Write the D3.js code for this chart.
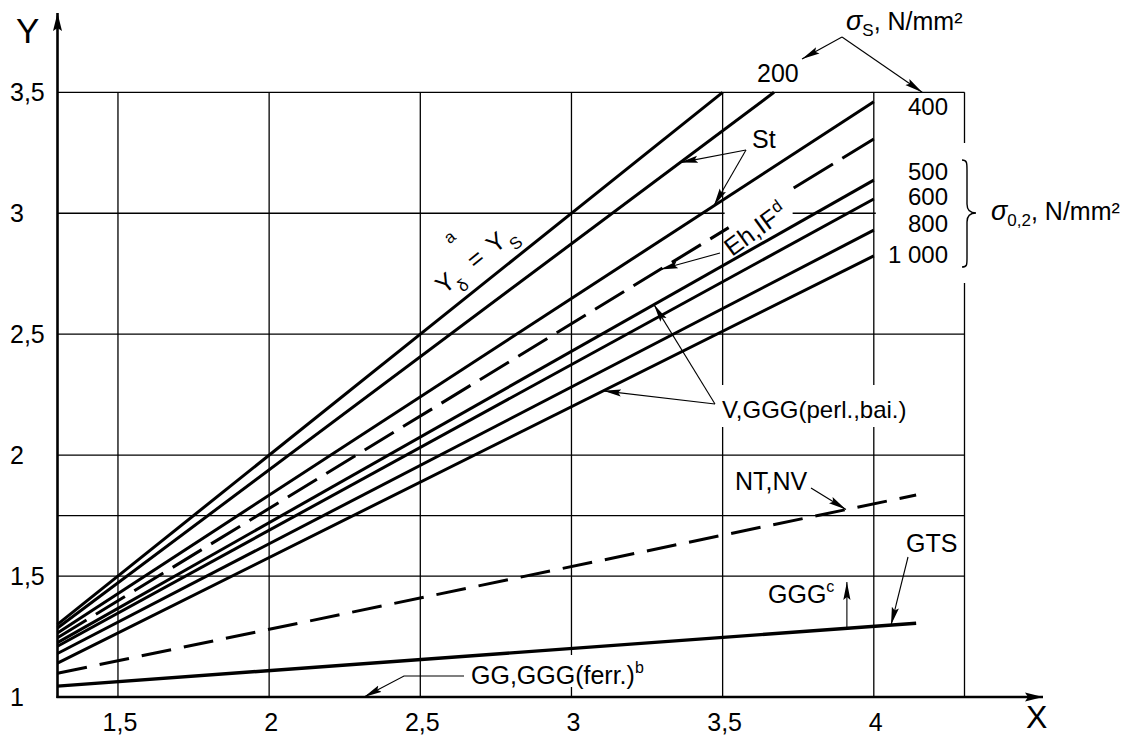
<!DOCTYPE html>
<html lang="de">
<head>
<meta charset="UTF-8">
<title>Y in Abhängigkeit von X</title>
<script src="https://d3js.org/d3.v7.min.js"></script>
<style>
    body { margin: 0; background: #fff; }
    svg { display: block; font-family: "Liberation Sans", Arial, sans-serif; }
</style>
</head>
<body>
<div id="chart"></div>
<script>
// Achsen und Raster
const xTicks = [1.5, 2, 2.5, 3, 3.5, 4];
const xTickLabels = ["1,5", "2", "2,5", "3", "3,5", "4"];
const yTicks = [1, 1.5, 2, 2.5, 3, 3.5];
const yTickLabels = ["1", "1,5", "2", "2,5", "3", "3,5"];
const yGrid = [1.5, 1.75, 2, 2.5, 3, 3.5];

// Kurven: Anfangs- und Endpunkt
const curveNames = ["Ys", "200", "400", "Eh,IF", "500", "600", "800", "1000", "NT,NV", "GTS"];
const curveX0 = [1.3, 1.3, 1.3, 1.3, 1.3, 1.3, 1.3, 1.3, 1.3, 1.3];
const curveY0 = [1.3, 1.285, 1.265, 1.245, 1.225, 1.21, 1.18, 1.14, 1.098, 1.045];
const curveX1 = [3.5, 3.67, 4, 4, 4, 4, 4, 4, 4.14, 4.14];
const curveY1 = [3.5, 3.5, 3.461, 3.307, 3.137, 3.059, 2.93, 2.824, 1.835, 1.305];

// Beschriftung der Streckgrenzen
const sigmaLabels = ["400", "500", "600", "800", "1 000"];
const sigmaLabelY = [115, 180, 205, 232, 263];

const width = 1131, height = 735;

const x = d3.scaleLinear().domain([1.3, 4.3]).range([57.5, 964.5]);
const y = d3.scaleLinear().domain([1, 3.5]).range([697, 92.3]);

const curves = curveNames.map((name, i) => ({
    name,
    pts: [[curveX0[i], curveY0[i]], [curveX1[i], curveY1[i]]]
}));

// Wert einer Kurve bei gegebenem X
function valueAt(name, X) {
    const c = curves.find(d => d.name === name);
    const [a, b] = c.pts;
    return a[1] + (X - a[0]) / (b[0] - a[0]) * (b[1] - a[1]);
}
function at(name, X) {
    return [x(X), y(valueAt(name, X))];
}

const svg = d3.select("#chart").append("svg")
    .attr("width", width)
    .attr("height", height);

const defs = svg.append("defs");
defs.append("marker")
    .attr("id", "arr")
    .attr("viewBox", "0 0 18 8")
    .attr("markerWidth", 18).attr("markerHeight", 8)
    .attr("refX", 18).attr("refY", 4)
    .attr("orient", "auto")
    .attr("markerUnits", "userSpaceOnUse")
    .append("path").attr("d", "M0,0.4 L18,4 L0,7.6 L3,4 Z").attr("fill", "#000");
defs.append("marker")
    .attr("id", "axarr")
    .attr("viewBox", "0 0 18 10")
    .attr("markerWidth", 18).attr("markerHeight", 10)
    .attr("refX", 18).attr("refY", 5)
    .attr("orient", "auto")
    .attr("markerUnits", "userSpaceOnUse")
    .append("path").attr("d", "M0,0.5 L18,5 L0,9.5 L3,5 Z").attr("fill", "#000");

// Raster
const grid = svg.append("g").attr("stroke", "#000").attr("stroke-width", 1.3);
grid.selectAll(".vx").data(xTicks.concat([4.3])).join("line")
    .attr("x1", d => x(d)).attr("x2", d => x(d))
    .attr("y1", y(1)).attr("y2", y(3.5));
grid.selectAll(".hy").data(yGrid).join("line")
    .attr("x1", x(1.3)).attr("x2", x(4.3))
    .attr("y1", d => y(d)).attr("y2", d => y(d));

// Freistellungen im Raster für Beschriftungen
const knock = svg.append("g").attr("fill", "#fff");
knock.append("rect").attr("x", x(4) + 2).attr("y", 143).attr("width", 20 + x(4.3) - x(4)).attr("height", 140);
knock.append("rect").attr("x", x(3.5) + 2).attr("y", y(3) - 4).attr("width", 68).attr("height", 8);
knock.append("rect").attr("x", x(3.5) - 3).attr("y", 385).attr("width", 190).attr("height", 42);
knock.append("rect").attr("x", 468).attr("y", 655).attr("width", 195).attr("height", 32);

// Achsen
svg.append("line")
    .attr("x1", x(1.3)).attr("x2", x(1.3))
    .attr("y1", y(1) + 1).attr("y2", 13)
    .attr("stroke", "#000").attr("stroke-width", 2.6)
    .attr("marker-end", "url(#axarr)");
svg.append("line")
    .attr("x1", x(1.3) - 1).attr("x2", 1043)
    .attr("y1", y(1)).attr("y2", y(1))
    .attr("stroke", "#000").attr("stroke-width", 2.6)
    .attr("marker-end", "url(#axarr)");

svg.append("g").selectAll("text").data(yTicks).join("text")
    .attr("x", 10).attr("y", d => y(d) + 9)
    .attr("font-size", 25)
    .text((d, i) => yTickLabels[i]);
svg.append("g").selectAll("text").data(xTicks).join("text")
    .attr("x", d => x(d) + 2).attr("y", 731)
    .attr("text-anchor", "middle")
    .attr("font-size", 25)
    .text((d, i) => xTickLabels[i]);
svg.append("text").attr("x", 16).attr("y", 43).attr("font-size", 35).text("Y");
svg.append("text").attr("x", 1026).attr("y", 728).attr("font-size", 32).text("X");

// Kurven; Eh,IF wird an der Beschriftung unterbrochen
const line = d3.line().x(d => x(d[0])).y(d => y(d[1]));
const pieces = [];
curves.forEach(c => {
    if (c.name === "Eh,IF") {
        const a = c.pts[0], b = c.pts[1];
        pieces.push({ name: c.name, dash: "34,11", pts: [a, [3.52, valueAt(c.name, 3.52)]] });
        pieces.push({ name: c.name, dash: "46,11", pts: [[3.735, valueAt(c.name, 3.735)], b] });
    } else {
        pieces.push({ name: c.name, dash: c.name === "NT,NV" ? "30,13" : null, pts: c.pts });
    }
});
svg.append("g").selectAll("path").data(pieces).join("path")
    .attr("d", d => line(d.pts))
    .attr("fill", "none")
    .attr("stroke", "#000")
    .attr("stroke-width", d => d.name === "GTS" ? 3.4 : 3)
    .attr("stroke-dasharray", d => d.dash);

// Hinweislinien mit Pfeil
function leader(points) {
    svg.append("path")
        .attr("d", d3.line()(points))
        .attr("fill", "none")
        .attr("stroke", "#000")
        .attr("stroke-width", 1.1)
        .attr("marker-end", "url(#arr)");
}
leader([[842, 37], [802, 59]]);
leader([[842, 37], [x(4.16), y(3.5)]]);
leader([[746, 150], at("200", 3.359)]);
leader([[746, 150], at("400", 3.471)]);
leader([[720, 253], at("Eh,IF", 3.293)]);
leader([[715, 404], at("500", 3.273)]);
leader([[715, 404], at("1000", 3.105)]);
leader([[811, 488], at("NT,NV", 3.908)]);
leader([[908, 557], at("GTS", 4.057)]);
leader([at("GTS", 3.911), [at("GTS", 3.911)[0], 582]]);
leader([[464, 676], [404, 676], [x(2.314), y(1)]]);

// Beschriftungen
const lab = svg.append("g").attr("font-size", 25).attr("fill", "#000");
lab.append("text").attr("x", 757).attr("y", 82).text("200");
lab.selectAll(".sl").data(sigmaLabels).join("text")
    .attr("x", 948).attr("y", (d, i) => sigmaLabelY[i])
    .attr("text-anchor", "end")
    .attr("font-size", 24)
    .text(d => d);
lab.append("text").attr("x", 752).attr("y", 148).text("St");
lab.append("text").attr("x", 722).attr("y", 418).attr("font-size", 24).text("V,GGG(perl.,bai.)");
lab.append("text").attr("x", 735).attr("y", 490).text("NT,NV");
lab.append("text").attr("x", 906).attr("y", 552).text("GTS");
const ggg = lab.append("text").attr("x", 768).attr("y", 603).text("GGG");
ggg.append("tspan").attr("font-size", 16).attr("dy", -11).text("c");
const gg = lab.append("text").attr("x", 471).attr("y", 684).text("GG,GGG(ferr.)");
gg.append("tspan").attr("font-size", 16).attr("dy", -11).text("b");

const s1 = lab.append("text").attr("x", 846).attr("y", 30);
s1.append("tspan").attr("font-style", "italic").attr("font-size", 27).text("σ");
s1.append("tspan").attr("font-size", 17).attr("dy", 6).text("S");
s1.append("tspan").attr("dy", -6).text(", N/mm²");

const s2 = lab.append("text").attr("x", 991).attr("y", 220);
s2.append("tspan").attr("font-style", "italic").attr("font-size", 27).text("σ");
s2.append("tspan").attr("font-size", 17).attr("dy", 6).text("0,2");
s2.append("tspan").attr("dy", -6).text(", N/mm²");

// geschweifte Klammer
svg.append("path")
    .attr("d", "M962,160 C967,160 967,163 967,170 L967,204 C967,210 970,213 976,213 C970,213 967,216 967,222 L967,258 C967,265 967,267 962,267")
    .attr("fill", "none").attr("stroke", "#000").attr("stroke-width", 1.4);

// Eh,IF entlang der Strichlinie
const eh = svg.append("g").attr("transform", "translate(732,257) rotate(-36)");
eh.append("text").attr("font-size", 25).text("Eh,IF");
eh.append("text").attr("x", 61).attr("y", -9).attr("font-size", 17).text("d");

// Y_delta = Y_S entlang der Diagonalen
const yd = svg.append("g").attr("transform", "translate(444,295) rotate(-38.7)");
yd.append("text").attr("font-size", 25).text("Y");
yd.append("text").attr("x", 16).attr("y", 10).attr("font-size", 17).text("δ");
yd.append("text").attr("x", 40).attr("font-size", 25).text("=");
yd.append("text").attr("x", 65).attr("font-size", 25).text("Y");
yd.append("text").attr("x", 83).attr("y", 10).attr("font-size", 17).text("S");
yd.append("text").attr("x", 36).attr("y", -36).attr("font-size", 17).text("a");
</script>
</body>
</html>
